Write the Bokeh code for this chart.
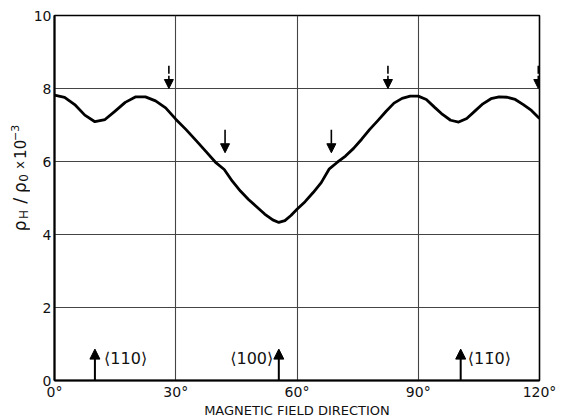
from bokeh.plotting import figure
from bokeh.models import FixedTicker, Label, Arrow, NormalHead, ColumnDataSource, Range1d
from bokeh.layouts import row
from bokeh.embed import file_html
from bokeh.resources import INLINE
import math

# ---- data ----
angle_deg = [0, 2.5, 5, 7.5, 10, 12.5, 15, 17.5, 20, 22.5, 25, 27.5, 30, 32.5, 35,
             37.5, 40, 42, 44, 46, 48, 50, 52, 54, 55.5, 57, 58.5, 60, 62, 64, 66,
             68, 70, 72, 74, 76, 78, 80, 82, 84, 86, 88, 90, 92, 94, 96, 98, 100,
             102, 104, 106, 108, 110, 112, 114, 116, 118, 120]
rho_ratio = [7.82, 7.76, 7.56, 7.27, 7.09, 7.15, 7.38, 7.62, 7.77, 7.77, 7.66, 7.47,
             7.16, 6.88, 6.58, 6.27, 5.96, 5.78, 5.46, 5.19, 4.96, 4.76, 4.56, 4.40,
             4.33, 4.38, 4.52, 4.69, 4.90, 5.15, 5.42, 5.80, 5.98, 6.15, 6.36, 6.61,
             6.88, 7.12, 7.37, 7.60, 7.73, 7.79, 7.79, 7.70, 7.49, 7.29, 7.13, 7.08,
             7.18, 7.38, 7.58, 7.72, 7.77, 7.76, 7.70, 7.56, 7.40, 7.18]

x_ticks = [0, 30, 60, 90, 120]
x_tick_labels = ["0°", "30°", "60°", "90°", "120°"]
y_ticks = [0, 2, 4, 6, 8, 10]

top_arrow_angles = [28.3, 82.5, 119.7]        # arrows ending on the 8 line
mid_arrow_angles = [42.2, 68.5]               # arrows above the kinks
axis_arrow_angles = [10.0, 55.5, 100.5]       # crystal directions
axis_dir_labels = ["⟨110⟩", "⟨100⟩", "⟨11\u03040⟩"]
axis_dir_label_x = [17.6, 48.8, 107.6]

FONT = "DejaVu Sans"
LW = 30  # width of the strip that carries the y-axis title

# ---- strip with the y-axis title (pixel coordinates, y down) ----
lab = figure(width=LW, height=420, x_range=Range1d(0, LW), y_range=Range1d(420, 0),
             output_backend="svg", toolbar_location=None,
             x_axis_location=None, y_axis_location=None,
             min_border=0, min_border_left=0, min_border_right=0,
             min_border_top=0, min_border_bottom=0)
lab.outline_line_color = None
lab.grid.visible = False
lab.background_fill_color = "white"
lab.border_fill_color = "white"

pieces = [
    ("ρ", 19, 242, "17px"),
    ("H", 23, 229, "12px"),
    ("/", 19, 213, "18px"),
    ("ρ", 19, 198, "17px"),
    ("0", 23, 187, "12px"),
    ("x", 19, 172, "13px"),
    ("10", 19, 154, "15px"),
    ("\u22123", 14, 135, "11px"),
]
for t, sx, sy, fs in pieces:
    lab.add_layout(Label(x=sx, y=sy, text=t, angle=math.pi / 2, text_font=FONT,
                         text_font_size=fs, text_align="center",
                         text_baseline="middle", text_color="#111"))

# ---- main chart ----
p = figure(width=569 - LW, height=420, x_range=(0, 120), y_range=(0, 10),
           output_backend="svg", toolbar_location=None,
           min_border_left=52 - LW, min_border_right=30, min_border_top=15,
           min_border_bottom=38)
p.background_fill_color = "white"
p.border_fill_color = "white"
p.outline_line_color = "black"
p.outline_line_width = 1.6

p.xaxis.ticker = FixedTicker(ticks=x_ticks)
p.xaxis.major_label_overrides = {t: l for t, l in zip(x_ticks, x_tick_labels)}
p.yaxis.ticker = FixedTicker(ticks=y_ticks)
for ax in (p.xaxis, p.yaxis):
    ax.major_tick_line_color = None
    ax.minor_tick_line_color = None
    ax.major_tick_out = 0
    ax.major_tick_in = 0
    ax.minor_tick_out = 0
    ax.minor_tick_in = 0
    ax.axis_line_color = "black"
    ax.axis_line_width = 2
    ax.major_label_text_font = FONT
    ax.major_label_text_font_size = "14px"
    ax.major_label_text_color = "#111"
p.xaxis.major_label_standoff = 3
p.yaxis.major_label_standoff = 3
p.xaxis.axis_label = "MAGNETIC FIELD DIRECTION"
p.xaxis.axis_label_text_font = FONT
p.xaxis.axis_label_text_font_size = "13px"
p.xaxis.axis_label_text_font_style = "normal"
p.xaxis.axis_label_text_color = "#111"
p.xaxis.axis_label_standoff = 0

p.xgrid.ticker = FixedTicker(ticks=[30, 60, 90])
p.ygrid.ticker = FixedTicker(ticks=[2, 4, 6, 8])
p.grid.grid_line_color = "#444"
p.grid.grid_line_width = 1.1

src = ColumnDataSource(dict(x=angle_deg, y=rho_ratio))
p.line("x", "y", source=src, line_color="black", line_width=2.8, line_join="round")

for a in top_arrow_angles:
    p.add_layout(Arrow(end=NormalHead(size=9, fill_color="black", line_color="black"),
                       x_start=a, y_start=8.62, x_end=a, y_end=8.0,
                       line_color="black", line_width=1.6, line_dash="8 2"))
for a in mid_arrow_angles:
    p.add_layout(Arrow(end=NormalHead(size=9, fill_color="black", line_color="black"),
                       x_start=a, y_start=6.87, x_end=a, y_end=6.24,
                       line_color="black", line_width=1.6))
for a in axis_arrow_angles:
    p.add_layout(Arrow(end=NormalHead(size=10, fill_color="black", line_color="black"),
                       x_start=a, y_start=0.0, x_end=a, y_end=0.86,
                       line_color="black", line_width=2))
for lx, lt in zip(axis_dir_label_x, axis_dir_labels):
    p.add_layout(Label(x=lx, y=0.6, text=lt, text_font=FONT,
                       text_font_size="16px", text_align="center",
                       text_baseline="middle", text_color="#111"))

layout = row(lab, p, spacing=0)
open("out.html", "w").write(file_html(layout, INLINE))
